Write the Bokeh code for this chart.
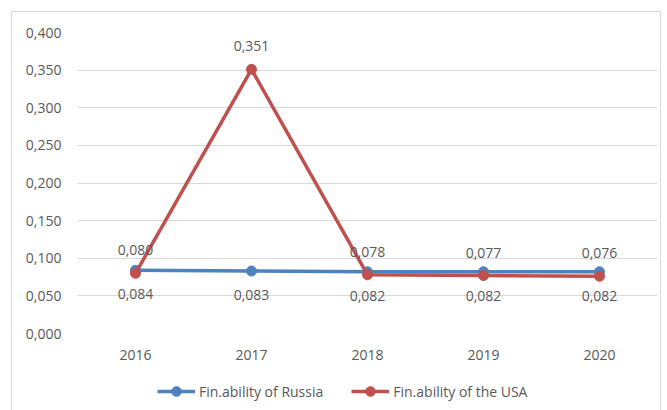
from bokeh.plotting import figure
from bokeh.layouts import column
from bokeh.models import (ColumnDataSource, FactorRange, Range1d, CustomJSTickFormatter,
                          Legend, LegendItem, LabelSet)
from bokeh.core.properties import value
from bokeh.embed import file_html
from bokeh.resources import INLINE

years = ["2016", "2017", "2018", "2019", "2020"]
russia = [0.084, 0.083, 0.082, 0.082, 0.082]
usa = [0.080, 0.351, 0.078, 0.077, 0.076]
y_ticks = [0.0, 0.05, 0.10, 0.15, 0.20, 0.25, 0.30, 0.35, 0.40]
series_names = ["Fin.ability of Russia", "Fin.ability of the USA"]

FONT = "Open Sans"
GREY = "#595959"
BLUE = "#4F81BD"
RED = "#C0504D"

def fmt(v):
    return f"{v:.3f}".replace(".", ",")

src_r = ColumnDataSource(dict(x=years, y=russia, lab=[fmt(v) for v in russia]))
src_u = ColumnDataSource(dict(x=years, y=usa, lab=[fmt(v) for v in usa]))

xr = FactorRange(*years, range_padding=0)
p = figure(width=648, height=354, x_range=xr,
           y_range=Range1d(0, 0.4), output_backend="svg", toolbar_location=None,
           min_border_left=65, min_border_right=3, min_border_top=20, min_border_bottom=33)
p.outline_line_color = None
p.background_fill_color = "white"
p.border_fill_color = "white"

p.xgrid.grid_line_color = None
p.ygrid.grid_line_color = "#D9D9D9"
p.ygrid.grid_line_width = 1
p.yaxis.ticker = y_ticks
p.yaxis.formatter = CustomJSTickFormatter(code="return tick.toFixed(3).replace('.', ',');")
for ax in (p.xaxis, p.yaxis):
    ax.axis_line_color = None
    ax.major_tick_line_color = None
    ax.minor_tick_line_color = None
    ax.major_label_text_font = FONT
    ax.major_label_text_font_size = "14px"
    ax.major_label_text_color = GREY
p.yaxis.major_label_standoff = 10
p.xaxis.major_label_standoff = 10

lr = p.line("x", "y", source=src_r, line_color=BLUE, line_width=3.5)
cr = p.scatter("x", "y", source=src_r, size=10, fill_color=BLUE, line_color=BLUE)
lu = p.line("x", "y", source=src_u, line_color=RED, line_width=3.5)
cu = p.scatter("x", "y", source=src_u, size=10, fill_color=RED, line_color=RED)

lab_r = LabelSet(x="x", y="y", text="lab", source=src_r, y_offset=-24,
                 text_align="center", text_baseline="middle", text_font=value(FONT),
                 text_font_size="14px", text_color=GREY)
lab_u = LabelSet(x="x", y="y", text="lab", source=src_u, y_offset=23,
                 text_align="center", text_baseline="middle", text_font=value(FONT),
                 text_font_size="14px", text_color=GREY)
p.add_layout(lab_r)
p.add_layout(lab_u)

# legend strip below the chart (series kept out of its visible y-range)
pl = figure(width=648, height=44, x_range=xr, y_range=Range1d(1, 2),
            x_axis_type=None, y_axis_type=None, output_backend="svg",
            toolbar_location=None, min_border=0)
pl.outline_line_color = None
pl.background_fill_color = "white"
pl.border_fill_color = "white"
llr = pl.line("x", "y", source=src_r, line_color=BLUE, line_width=3.5)
lcr = pl.scatter("x", "y", source=src_r, size=10, fill_color=BLUE, line_color=BLUE)
llu = pl.line("x", "y", source=src_u, line_color=RED, line_width=3.5)
lcu = pl.scatter("x", "y", source=src_u, size=10, fill_color=RED, line_color=RED)

legend = Legend(items=[LegendItem(label=series_names[0], renderers=[llr, lcr]),
                       LegendItem(label=series_names[1], renderers=[llu, lcu])],
                orientation="horizontal", location=(80, 7),
                glyph_width=38, glyph_height=24, label_height=20, label_standoff=4,
                spacing=28, padding=0, margin=0, border_line_color=None,
                background_fill_alpha=0,
                label_text_font=FONT, label_text_font_size="14px", label_text_color=GREY)
pl.add_layout(legend, "center")

layout = column(p, pl, spacing=0,
                styles={"margin-left": "11px", "margin-top": "11px",
                        "border": "1px solid #D9D9D9"})

open("out.html", "w").write(file_html(layout, INLINE))
